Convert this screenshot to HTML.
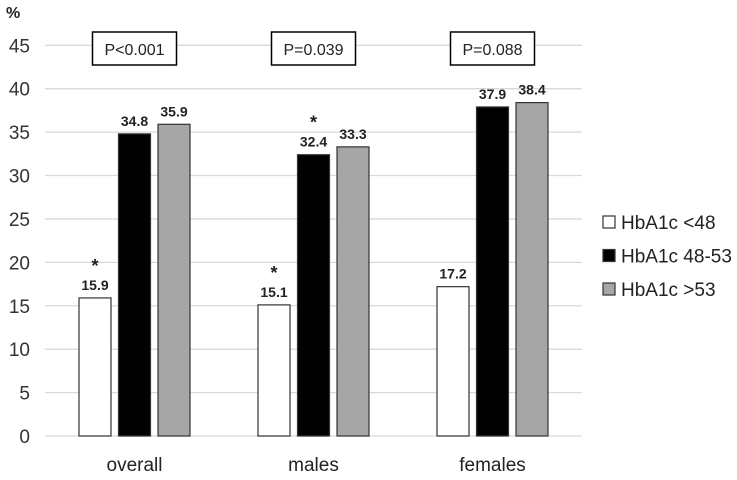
<!DOCTYPE html>
<html><head><meta charset="utf-8"><style>
body{margin:0;background:#fff;}
svg{font-family:"Liberation Sans",sans-serif;}
</style></head><body>
<svg id="chart" width="737" height="475"></svg>
<script>
const categories=["overall","males","females"];
const seriesNames=["HbA1c <48","HbA1c 48-53","HbA1c >53"];
const lowVals=[15.9,15.1,17.2];
const midVals=[34.8,32.4,37.9];
const highVals=[35.9,33.3,38.4];
const pLabels=["P<0.001","P=0.039","P=0.088"];
const starLow=[true,true,false];
const starMid=[false,true,false];
const yTicks=[0,5,10,15,20,25,30,35,40,45];
const fills=["#fff","#000","#a6a6a6"];
const NS="http://www.w3.org/2000/svg";
const svg=document.getElementById('chart');
const X0=45,X1=582,Y0=436,Y45=45.3;
function y(v){return Y0-(Y0-Y45)*v/45;}
const gw=(X1-X0)/categories.length;
function bx(g,s){return X0+g*gw+34+s*39.5;}
function mk(t,a,txt){const e=document.createElementNS(NS,t);for(const k in a)e.setAttribute(k,a[k]);if(txt!==undefined)e.textContent=txt;svg.appendChild(e);return e;}
yTicks.forEach(v=>{
 const l=mk('line',{x1:X0,x2:X1,y1:y(v),y2:y(v),stroke:'#d9d9d9','stroke-width':1.3});
 
 
 const t=mk('text',{x:30,y:y(v)+7,'text-anchor':'end','font-size':19,fill:'#333'},v);
 
 
});
const pct=mk('text',{x:6,y:18,'font-size':16,'font-weight':'bold',fill:'#222'},'%');


const series=[lowVals,midVals,highVals];
categories.forEach((c,g)=>{
 series.forEach((vals,s)=>{
  const x=bx(g,s),v=vals[g];
  const r=mk('rect',{x:x,y:y(v),width:32,height:Y0-y(v),fill:fills[s],stroke:'#333','stroke-width':1.2});
  
  
  const t=mk('text',{x:x+16,y:y(v)-8,'text-anchor':'middle','font-size':14,'font-weight':'bold',fill:'#222'},v.toFixed(1));
  
  
  const star=(s===0&&starLow[g])||(s===1&&starMid[g]);
  if(star){const a=mk('text',{x:x+16,y:y(v)-26,'text-anchor':'middle','font-size':18,'font-weight':'bold',fill:'#222'},'*');
   
   }
 });
 const cx=bx(g,1)+16;
 const b=mk('rect',{x:cx-42,y:32,width:84,height:33,fill:'#fff',stroke:'#000','stroke-width':1.5});
 
 
 const pt=mk('text',{x:cx,y:55,'text-anchor':'middle','font-size':16,fill:'#222'},pLabels[g]);
 
 
 const ct=mk('text',{x:cx,y:471,'text-anchor':'middle','font-size':19,fill:'#222'},c);
 
 
});
seriesNames.forEach((n,i)=>{
 const yy=222+i*33.5;
 const r=mk('rect',{x:603,y:yy-6,width:12,height:12,fill:fills[i],stroke:'#333','stroke-width':1.2});
 
 
 const t=mk('text',{x:621,y:yy+7,'font-size':19,fill:'#222'},n);
 
 
});
</script>
</body></html>
